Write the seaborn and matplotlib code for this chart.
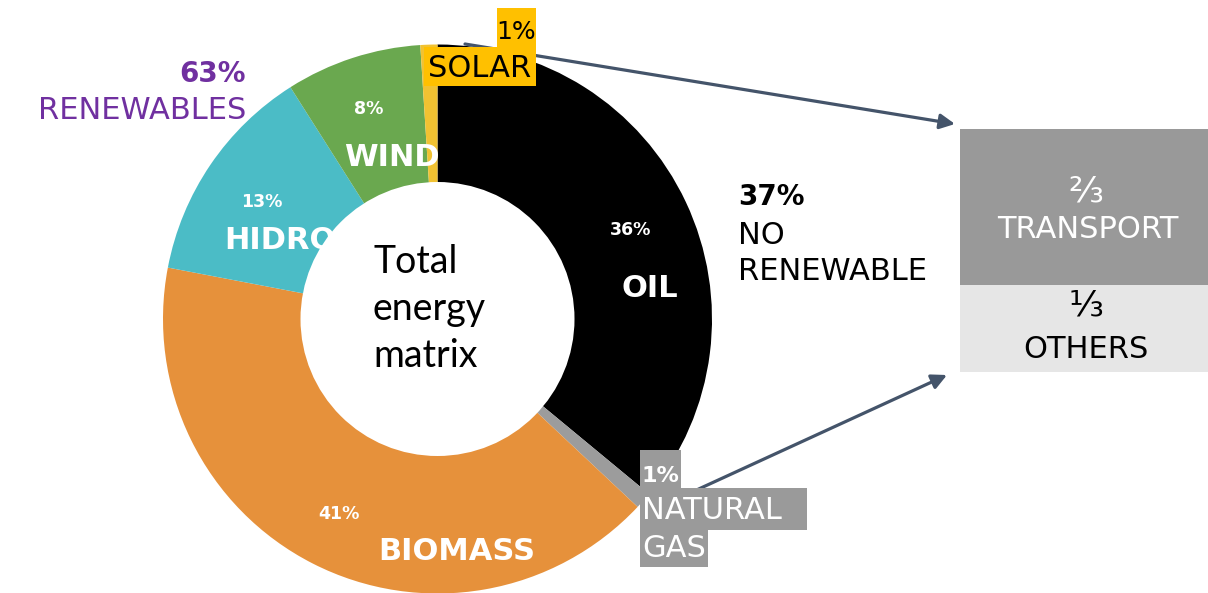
import matplotlib
matplotlib.use('Agg')
import matplotlib.pyplot as plt
import matplotlib.patches as mpatches
import seaborn as sns

# energy matrix data (%)
sources = ['OIL', 'NATURAL GAS', 'BIOMASS', 'HIDRO', 'WIND', 'SOLAR']
shares = [36, 1, 41, 13, 8, 1]
renewable = [False, False, True, True, True, True]
colors = ['#000000', '#9C9C9C', '#E6913B', '#4BBCC6', '#6AA84F', '#F1C232']

# split of the non renewable part
use_labels = ['TRANSPORT', 'OTHERS']
use_fracs = ['⅔', '⅓']

sns.set_style('white')
plt.rcParams['font.family'] = ['DejaVu Sans']

W, H = 1208, 593
fig = plt.figure(figsize=(W / 100, H / 100), dpi=100)

# donut, center (437.5, 319) px, radius 274.5 px
cx, cy, r = 437.5, 319, 274.5
ax_pie = fig.add_axes([(cx - r) / W, (H - cy - r) / H, 2 * r / W, 2 * r / H])
ax_pie.pie(shares, colors=colors, startangle=90, counterclock=False, radius=1,
           wedgeprops=dict(linewidth=0))
ax_pie.set_xlim(-1, 1)
ax_pie.set_ylim(-1, 1)
ax_pie.set_aspect('auto')
ax_pie.axis('off')

# overlay in pixel coordinates
ax = fig.add_axes([0, 0, 1, 1])
ax.set_xlim(0, W)
ax.set_ylim(H, 0)
ax.axis('off')
ax.patch.set_visible(False)

ren = sum(s for s, f in zip(shares, renewable) if f)
nonren = sum(s for s, f in zip(shares, renewable) if not f)

white = 'white'
pct_kw = dict(color=white, fontsize=12.5, fontweight='bold', ha='center', va='baseline')
name_kw = dict(color=white, fontsize=22, fontweight='bold', ha='center', va='baseline')

# slice labels
ax.text(631, 235, f'{shares[0]}%', **pct_kw)
ax.text(650, 297, sources[0], **name_kw)
ax.text(339, 519, f'{shares[2]}%', **pct_kw)
ax.text(457, 560, sources[2], **name_kw)
ax.text(262, 207, f'{shares[3]}%', **pct_kw)
ax.text(224, 249, sources[3], color=white, fontsize=22, fontweight='bold',
        ha='left', va='baseline', zorder=2)
ax.text(369, 114, f'{shares[4]}%', **pct_kw)
ax.text(392, 166, sources[4], **name_kw)

# hole drawn over the labels (HIDRO is partly hidden)
ax.add_patch(mpatches.Circle((cx, cy), 137, facecolor='white', edgecolor='none', zorder=3))
for y, line in zip([273, 320, 367], ['Total', 'energy', 'matrix']):
    ax.text(373, y, line, fontsize=27, family=['Lato', 'DejaVu Sans'],
            color='black', ha='left', va='baseline', zorder=4)

# group totals
purple = '#7030A0'
ax.text(246, 82, f'{ren}%', color=purple, fontsize=20, fontweight='bold', ha='right', va='baseline')
ax.text(246, 119, 'RENEWABLES', color=purple, fontsize=22, ha='right', va='baseline')
ax.text(738, 205, f'{nonren}%', color='black', fontsize=20, fontweight='bold', ha='left', va='baseline')
ax.text(738, 244, 'NO', color='black', fontsize=22, ha='left', va='baseline')
ax.text(738, 280, 'RENEWABLE', color='black', fontsize=22, ha='left', va='baseline')

# arrows to the use boxes
arrow_kw = dict(arrowstyle='-|>,head_length=0.9,head_width=0.45', color='#44546A',
                lw=2.3, shrinkA=0, shrinkB=0)
ax.annotate('', xy=(955, 124), xytext=(465, 44), arrowprops=arrow_kw, zorder=5)
ax.annotate('', xy=(947, 375), xytext=(690, 493), arrowprops=arrow_kw, zorder=5)

box_kw = dict(edgecolor='none', linewidth=0, zorder=6)

# solar callout
yellow = '#FFC000'
ax.add_patch(mpatches.Rectangle((497, 8), 39, 41, facecolor=yellow, **box_kw))
ax.add_patch(mpatches.Rectangle((424, 47), 112, 39, facecolor=yellow, **box_kw))
ax.text(516, 39, f'{shares[5]}%', color='black', fontsize=18, ha='center', va='baseline', zorder=7)
ax.text(480, 77, sources[5], color='black', fontsize=22, ha='center', va='baseline', zorder=7)

# natural gas callout
grey = '#9A9A9A'
ax.add_patch(mpatches.Rectangle((640, 450), 41, 40, facecolor=grey, **box_kw))
ax.add_patch(mpatches.Rectangle((640, 488), 167, 42, facecolor=grey, **box_kw))
ax.add_patch(mpatches.Rectangle((640, 528), 68, 39, facecolor=grey, **box_kw))
ax.text(642, 482, f'{shares[1]}%', color=white, fontsize=16, fontweight='bold', ha='left', va='baseline', zorder=7)
gas_lines = sources[1].split()
ax.text(642, 519, gas_lines[0], color=white, fontsize=22, ha='left', va='baseline', zorder=7)
ax.text(642, 557, gas_lines[1], color=white, fontsize=22, ha='left', va='baseline', zorder=7)

# use boxes
ax.add_patch(mpatches.Rectangle((960, 129), 248, 157, facecolor='#999999', **box_kw))
ax.add_patch(mpatches.Rectangle((960, 285), 248, 87, facecolor='#E6E6E6', **box_kw))
ax.text(1086, 192, use_fracs[0], color=white, fontsize=26, ha='center', va='center', zorder=7)
ax.text(1088, 238, use_labels[0], color=white, fontsize=22, ha='center', va='baseline', zorder=7)
ax.text(1086, 305, use_fracs[1], color='black', fontsize=26, ha='center', va='center', zorder=7)
ax.text(1086, 358, use_labels[1], color='black', fontsize=22, ha='center', va='baseline', zorder=7)

fig.savefig('out.png', dpi=100)
